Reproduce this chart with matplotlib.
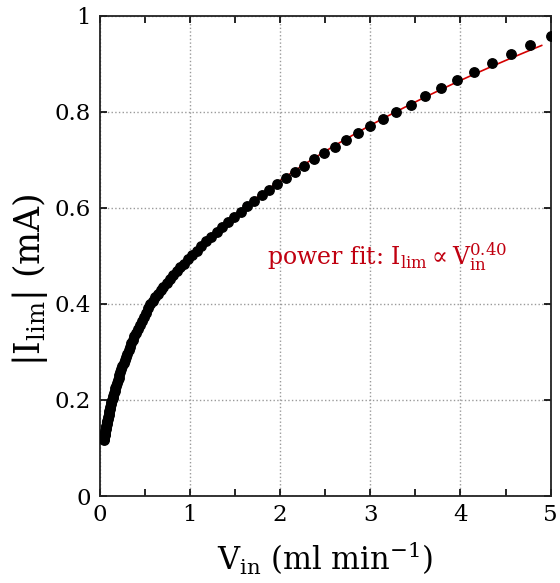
import numpy as np
import matplotlib
matplotlib.use('Agg')
import matplotlib.pyplot as plt

# flow rate (ml/min) and limiting current (mA)
v_in = [0.0500, 0.0524, 0.0549, 0.0575, 0.0602, 0.0631, 0.0661, 0.0692, 0.0725, 0.0760,
        0.0796, 0.0834, 0.0874, 0.0915, 0.0959, 0.1005, 0.1053, 0.1103, 0.1155, 0.1210,
        0.1268, 0.1328, 0.1391, 0.1458, 0.1527, 0.1600, 0.1676, 0.1756, 0.1839, 0.1927,
        0.2019, 0.2115, 0.2215, 0.2321, 0.2431, 0.2547, 0.2668, 0.2796, 0.2929, 0.3068,
        0.3214, 0.3367, 0.3528, 0.3696, 0.3871, 0.4056, 0.4249, 0.4451, 0.4663, 0.4885,
        0.5118, 0.5362, 0.5617, 0.5884, 0.6165, 0.6458, 0.6766, 0.7088, 0.7425, 0.7779,
        0.8149, 0.8537, 0.8944, 0.9369, 0.9816, 1.0283, 1.0773, 1.1286, 1.1823, 1.2386,
        1.2976, 1.3593, 1.4241, 1.4919, 1.5629, 1.6373, 1.7153, 1.7969, 1.8825, 1.9721,
        2.0660, 2.1644, 2.2675, 2.3754, 2.4885, 2.6070, 2.7311, 2.8612, 2.9974, 3.1401,
        3.2896, 3.4463, 3.6104, 3.7823, 3.9624, 4.1510, 4.3487, 4.5557, 4.7726, 5.0000]
i_lim = [0.116, 0.119, 0.122, 0.126, 0.129, 0.132, 0.136, 0.139, 0.143, 0.146,
         0.150, 0.154, 0.157, 0.161, 0.165, 0.169, 0.173, 0.177, 0.182, 0.186,
         0.191, 0.195, 0.200, 0.205, 0.209, 0.214, 0.219, 0.225, 0.230, 0.235,
         0.241, 0.246, 0.252, 0.258, 0.264, 0.270, 0.276, 0.283, 0.289, 0.296,
         0.303, 0.310, 0.318, 0.325, 0.333, 0.340, 0.348, 0.356, 0.365, 0.373,
         0.382, 0.391, 0.400, 0.407, 0.414, 0.421, 0.429, 0.436, 0.444, 0.452,
         0.460, 0.468, 0.476, 0.484, 0.493, 0.501, 0.510, 0.520, 0.530, 0.540,
         0.550, 0.560, 0.571, 0.581, 0.592, 0.603, 0.615, 0.626, 0.638, 0.650,
         0.662, 0.674, 0.687, 0.701, 0.714, 0.727, 0.741, 0.755, 0.770, 0.785,
         0.799, 0.815, 0.832, 0.849, 0.866, 0.883, 0.901, 0.920, 0.938, 0.958]

x_ticks = [0, 1, 2, 3, 4, 5]
x_minor = [0.5, 1.5, 2.5, 3.5, 4.5]
y_ticks = [0, 0.2, 0.4, 0.6, 0.8, 1.0]
y_tick_labels = ['0', '0.2', '0.4', '0.6', '0.8', '1']

plt.rcParams['font.family'] = ['DejaVu Serif']
plt.rcParams['mathtext.fontset'] = 'dejavuserif'

x = np.array(v_in)
y = np.array(i_lim)

# power fit in log-log space over the upper part of the curve
sel = x >= 0.5
k, b = np.polyfit(np.log(x[sel]), np.log(y[sel]), 1)
x_fit = np.linspace(1.0, 4.9, 60)
y_fit = np.exp(b) * x_fit ** k

fig = plt.figure(figsize=(5.6, 5.83), dpi=100)
ax = fig.add_axes([0.1777, 0.1492, 0.8057, 0.8239])

ax.plot(x_fit, y_fit, color='#d40000', lw=1.2, zorder=2)
ax.plot(x, y, 'o', color='black', ms=6.8, zorder=3)

ax.set_xlim(0, 5)
ax.set_ylim(0, 1)
ax.set_xticks(x_ticks)
ax.set_xticks(x_minor, minor=True)
ax.set_yticks(y_ticks)
ax.set_yticklabels(y_tick_labels)
ax.grid(True, which='major', ls=':', color='#9a9a9a', lw=1.0)
ax.tick_params(which='both', direction='in', top=True, right=True,
               length=5, width=1.2, labelsize=16.5, pad=6)

for s in ax.spines.values():
    s.set_linewidth(1.3)
    s.set_color('#222222')

ax.set_xlabel(r'$\mathrm{V_{in}}$ (ml min$^{-1}$)', fontsize=22, labelpad=9)
ax.set_ylabel(r'$|\mathrm{I_{lim}}|$ (mA)', fontsize=25)
ax.yaxis.set_label_coords(-0.11, 0.45)

ax.text(1.86, 0.482, r'power fit: $\mathrm{I_{lim}} \propto \mathrm{V_{in}^{0.40}}$',
        color='#c00010', fontsize=17)

fig.savefig('out.png', dpi=100)
